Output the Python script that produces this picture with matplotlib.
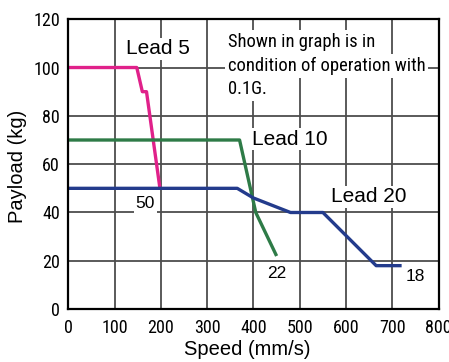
import matplotlib
matplotlib.use("Agg")
import matplotlib.pyplot as plt
from matplotlib import font_manager

# condensed face for ticks and the note (first one installed)
names = {f.name for f in font_manager.fontManager.ttflist}
narrow = "Liberation Sans"
for cand in ["Liberation Sans Narrow", "Arial Narrow", "Roboto Condensed",
             "Archivo Narrow", "Asap Condensed", "Barlow Semi Condensed"]:
    if cand in names:
        narrow = cand
        break
plt.rcParams['font.family'] = ['Liberation Sans', 'DejaVu Sans']

# data
lead5_x = [0, 148, 160, 169, 198]
lead5_y = [100, 100, 90, 90, 50]
lead10_x = [0, 370, 405, 450]
lead10_y = [70, 70, 40, 22]
lead20_x = [0, 365, 400, 480, 550, 665, 720]
lead20_y = [50, 50, 46, 40, 40, 18, 18]
xticks = [0, 100, 200, 300, 400, 500, 600, 700, 800]
yticks = [0, 20, 40, 60, 80, 100, 120]
note = ["Shown in graph is in", "condition of operation with", "0.1G."]

fig = plt.figure(figsize=(4.49, 3.62), dpi=100)
ax = fig.add_axes([0.152, 0.146, 0.825, 0.801])

ax.set_xlim(0, 800)
ax.set_ylim(0, 120)
ax.set_xticks(xticks)
ax.set_yticks(yticks)
ax.grid(True, color="#4d4d4d", linewidth=1.3, zorder=0)
ax.tick_params(length=0)
ax.tick_params(axis="x", pad=7)
ax.tick_params(axis="y", pad=6)
for lab in ax.get_xticklabels() + ax.get_yticklabels():
    lab.set_fontfamily(narrow)
    lab.set_fontsize(13)
for s in ax.spines.values():
    s.set_linewidth(1.6)
    s.set_zorder(5)

ax.plot(lead5_x, lead5_y, color="#E0218A", lw=2.4, zorder=3, solid_capstyle="butt")
ax.plot(lead10_x, lead10_y, color="#2E7B47", lw=2.4, zorder=3, solid_capstyle="butt")
ax.plot(lead20_x, lead20_y, color="#233B8C", lw=2.4, zorder=3, solid_capstyle="butt")

wb = dict(facecolor="white", edgecolor="none", pad=1)
ax.text(194, 107.8, "Lead 5", fontsize=15, ha="center", va="center", bbox=wb, zorder=4)
ax.text(478, 70.4, "Lead 10", fontsize=15, ha="center", va="center", bbox=wb, zorder=4)
ax.text(648, 46.5, "Lead 20", fontsize=15, ha="center", va="center", bbox=wb, zorder=4)
ax.text(166.7, 43.6, "50", fontsize=12.5, ha="center", va="center", bbox=wb, zorder=4)
ax.text(451, 14.6, "22", fontsize=12.5, ha="center", va="center", bbox=wb, zorder=4)
ax.text(749, 13.5, "18", fontsize=12.5, ha="center", va="center", bbox=wb, zorder=4)

for yy, line in zip([110.6, 100.7, 91.2], note):
    ax.text(345, yy, line, fontsize=13.3, family=narrow, ha="left", va="center",
            bbox=dict(facecolor="white", edgecolor="none", pad=2), zorder=4)

ax.set_xlabel("Speed (mm/s)", fontsize=14.5, va="center")
ax.set_ylabel("Payload (kg)", fontsize=14.5, va="center")
ax.xaxis.set_label_coords(0.483, -0.138)
ax.yaxis.set_label_coords(-0.136, 0.494)

fig.savefig("out.png", dpi=100)
